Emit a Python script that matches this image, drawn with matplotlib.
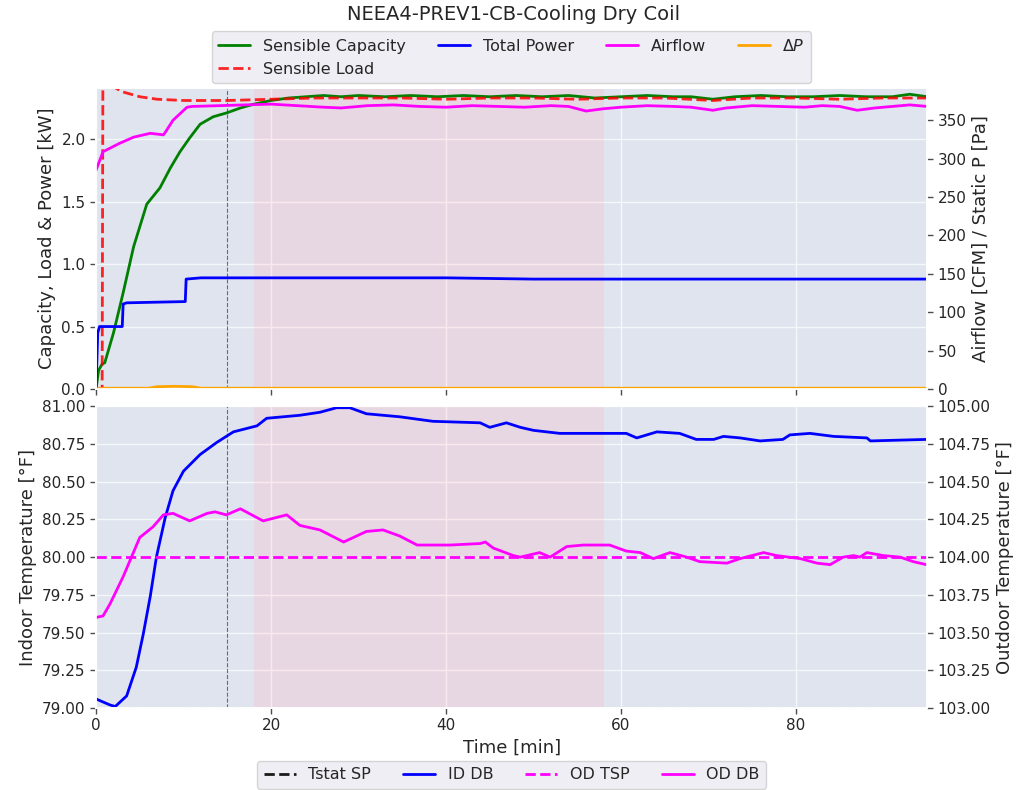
import matplotlib
matplotlib.use('Agg')
import matplotlib.pyplot as plt
import seaborn as sns

# --- top panel data (time in min) ---
t_cap = [0, 0.3, 0.7, 1.0, 2.0, 3.1, 4.3, 5.8, 7.3, 8.5, 9.6, 10.7, 11.9, 13.4, 14.9, 16.5, 18, 20, 22,
         24, 26, 28, 30, 33, 36, 39, 42, 45, 48, 51, 54, 57, 60, 63, 66, 68, 70.5, 73, 76, 79, 82, 85,
         88, 91, 93, 95]
sens_cap = [0.0, 0.15, 0.2, 0.21, 0.45, 0.77, 1.14, 1.48, 1.61, 1.77, 1.90, 2.01, 2.12, 2.18, 2.21, 2.25,
            2.28, 2.31, 2.33, 2.34, 2.35, 2.34, 2.35, 2.34, 2.35, 2.34, 2.35, 2.34, 2.35, 2.34, 2.35, 2.33,
            2.34, 2.35, 2.34, 2.34, 2.32, 2.34, 2.35, 2.34, 2.34, 2.35, 2.34, 2.34, 2.36, 2.34]

t_load = [0, 0.7, 0.8, 1.2, 2.0, 3.0, 5.0, 7.0, 10, 15, 20, 25, 30, 35, 40, 45, 50, 55, 60, 65, 70.5,
          75, 80, 85, 90, 95]
sens_load = [0.0, 0.0, 2.9, 2.5, 2.42, 2.38, 2.34, 2.32, 2.31, 2.31, 2.32, 2.33, 2.33, 2.33, 2.32, 2.33,
             2.33, 2.32, 2.33, 2.33, 2.31, 2.33, 2.33, 2.32, 2.33, 2.33]

t_pow = [0, 0.2, 0.4, 3.0, 3.1, 3.5, 10.2, 10.3, 12, 20, 30, 40, 50, 60, 70, 80, 90, 95]
tot_power = [0.0, 0.45, 0.50, 0.50, 0.68, 0.69, 0.70, 0.88, 0.89, 0.89, 0.89, 0.89, 0.88, 0.88, 0.88,
             0.88, 0.88, 0.88]

t_air = [0, 0.8, 2.7, 4.3, 6.2, 7.7, 7.9, 8.8, 10.4, 11, 14, 17, 20, 23, 26, 28, 31, 34, 37, 40, 43, 46,
         49, 52, 54, 56, 58, 60, 63, 66, 68, 70.5, 72, 75, 78, 81, 83, 85, 87, 89, 91, 93, 95]
airflow = [285, 309, 320, 328, 333, 331, 334, 350, 367, 368, 369, 370, 371, 369, 367, 366, 369, 370,
           368, 367, 369, 368, 367, 369, 368, 362, 365, 367, 369, 368, 367, 363, 366, 369, 368, 367, 369,
           368, 363, 366, 368, 370, 368]

t_dp = [0, 1, 6, 7, 9, 11, 12, 30, 60, 95]
delta_p = [0, 1, 1, 3, 3.5, 3, 1, 1, 1, 1]

# --- bottom panel data ---
t_id = [0, 1.6, 2.2, 3.5, 4.6, 5.4, 6.2, 6.9, 7.9, 8.8, 10.0, 11.9, 13.8, 15.7, 18.4, 19.5, 23.3, 25.6,
        27.5, 29.0, 30.9, 34.7, 38.5, 43.9, 45.0, 46.9, 48.5, 50, 53, 60.6, 61.8, 64.1, 66.7, 68.6, 70.6,
        71.7, 73.6, 75.9, 78.5, 79.3, 81.6, 84.3, 88.1, 88.5, 94.9]
id_db = [79.06, 79.02, 79.01, 79.08, 79.27, 79.49, 79.74, 80.0, 80.26, 80.44, 80.57, 80.68, 80.76, 80.83,
         80.87, 80.92, 80.94, 80.96, 80.99, 80.99, 80.95, 80.93, 80.90, 80.89, 80.86, 80.89, 80.86, 80.84,
         80.82, 80.82, 80.79, 80.83, 80.82, 80.78, 80.78, 80.80, 80.79, 80.77, 80.78, 80.81, 80.82, 80.80,
         80.79, 80.77, 80.78]

t_od = [0, 0.8, 1.6, 3.1, 5.0, 6.5, 7.7, 8.8, 10.7, 12.7, 13.6, 14.9, 16.5, 19.1, 21.8, 23.3, 25.6, 28.3,
        30.9, 32.8, 34.7, 36.7, 40.5, 43.9, 44.5, 45.4, 47.7, 48.5, 50.7, 51.9, 53.8, 55.7, 58.7, 60.6,
        62.2, 63.7, 65.6, 67.5, 69, 72.1, 73.6, 76.3, 77.8, 80.5, 82.4, 83.9, 85.4, 86.6, 87.3, 88.1, 90,
        91.9, 93.4, 94.9]
od_db = [103.60, 103.61, 103.69, 103.87, 104.13, 104.20, 104.28, 104.29, 104.24, 104.29, 104.30, 104.28,
         104.32, 104.24, 104.28, 104.21, 104.18, 104.10, 104.17, 104.18, 104.14, 104.08, 104.08, 104.09,
         104.10, 104.06, 104.01, 104.00, 104.03, 104.00, 104.07, 104.08, 104.08, 104.04, 104.03, 103.99,
         104.03, 104.00, 103.97, 103.96, 103.99, 104.03, 104.01, 103.99, 103.96, 103.95, 104.00, 104.01,
         104.00, 104.03, 104.01, 104.00, 103.97, 103.95]

tstat_sp = 79.0
od_tsp = 104.0
t_start, t_end = 0, 95
steady_start, steady_end = 18, 58
t_mark = 15

sns.set_theme(style='darkgrid')
plt.rcParams['axes.labelsize'] = 13
plt.rcParams['legend.fontsize'] = 11.5

fig = plt.figure(figsize=(10.28, 7.9), dpi=100)
ax1 = fig.add_axes([0.0934, 0.5076, 0.8086, 0.381])
ax3 = fig.add_axes([0.0934, 0.1038, 0.8086, 0.382], sharex=ax1)

for ax in (ax1, ax3):
    ax.axvspan(t_start, steady_start, color='tab:blue', alpha=0.05, lw=0)
    ax.axvspan(steady_start, steady_end, color='palevioletred', alpha=0.15, lw=0)
    ax.axvspan(steady_end, t_end, color='tab:blue', alpha=0.05, lw=0)
    ax.axvline(t_mark, color='k', ls='--', lw=0.8, alpha=0.6)

# top
ax2 = ax1.twinx()
ax2.grid(False)
l1, = ax1.plot(t_cap, sens_cap, color='green', lw=2, label='Sensible Capacity')
l2, = ax1.plot(t_load, sens_load, color='red', ls='--', lw=2, label='Sensible Load', alpha=0.85)
l3, = ax1.plot(t_pow, tot_power, color='blue', lw=2, label='Total Power')
l4, = ax2.plot(t_air, airflow, color='magenta', lw=2, label='Airflow')
l5, = ax2.plot(t_dp, delta_p, color='orange', lw=2, label=r'$\Delta P$')
ax1.set_ylim(0, 2.41)
ax2.set_ylim(0, 392)
ax1.set_xlim(t_start, t_end)
ax1.set_ylabel('Capacity, Load & Power [kW]')
ax2.set_ylabel('Airflow [CFM] / Static P [Pa]')
plt.setp(ax1.get_xticklabels(), visible=False)
ax1.legend(handles=[l1, l2, l3, l4, l5], loc='lower center', bbox_to_anchor=(0.5, 1.0), ncol=4,
           borderaxespad=0.3)

# bottom
ax4 = ax3.twinx()
ax4.grid(False)
b1, = ax3.plot([t_start, t_end], [tstat_sp, tstat_sp], color='k', ls='--', lw=2, label='Tstat SP')
b2, = ax3.plot(t_id, id_db, color='blue', lw=2, label='ID DB')
b3, = ax4.plot([t_start, t_end], [od_tsp, od_tsp], color='magenta', ls='--', lw=2, label='OD TSP')
b4, = ax4.plot(t_od, od_db, color='magenta', lw=2, label='OD DB')
ax3.set_ylim(79, 81)
ax4.set_ylim(103, 105)
ax3.set_xlabel('Time [min]')
ax3.set_ylabel('Indoor Temperature [°F]')
ax4.set_ylabel('Outdoor Temperature [°F]')
ax3.legend(handles=[b1, b2, b3, b4], loc='upper center', bbox_to_anchor=(0.5, -0.175), ncol=4,
           borderaxespad=0)

for ax in (ax1, ax3):
    ax.tick_params(axis='x', bottom=True, length=4, width=1, color='0.3')
    ax.tick_params(axis='y', left=True, length=4, width=1, color='0.3')
for ax in (ax2, ax4):
    ax.tick_params(axis='y', right=True, length=4, width=1, color='0.3')

fig.suptitle('NEEA4-PREV1-CB-Cooling Dry Coil', y=0.982, va='center', fontsize=14)

fig.savefig('out.png', dpi=100)
